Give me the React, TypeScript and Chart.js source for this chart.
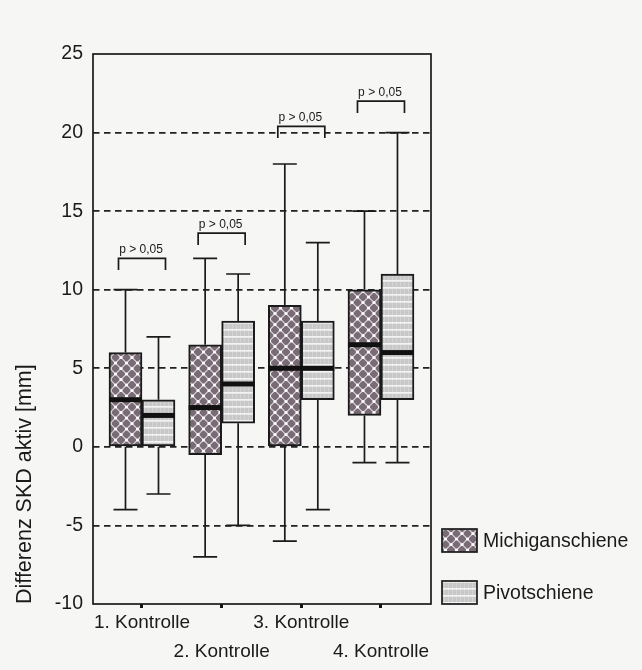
import React, { useEffect, useRef } from 'react';
import { Chart, registerables } from 'chart.js';

Chart.register(...registerables);

// ---------- data ----------
const categories = ['1. Kontrolle', '2. Kontrolle', '3. Kontrolle', '4. Kontrolle'];
const seriesNames = ['Michiganschiene', 'Pivotschiene'];

const michiganMin = [-4, -7, -6, -1];
const michiganQ1 = [0, -0.5, 0, 2];
const michiganMedian = [3, 2.5, 5, 6.5];
const michiganQ3 = [6, 6.5, 9, 10];
const michiganMax = [10, 12, 18, 15];

const pivotMin = [-3, -5, -4, -1];
const pivotQ1 = [0, 1.5, 3, 3];
const pivotMedian = [2, 4, 5, 6];
const pivotQ3 = [3, 8, 8, 11];
const pivotMax = [7, 11, 13, 20];

const pLabels = ['p > 0,05', 'p > 0,05', 'p > 0,05', 'p > 0,05'];
const pBracketLevels = [12, 13.6, 20.4, 22];

const yTicks = [-10, -5, 0, 5, 10, 15, 20, 25];
const yTitle = 'Differenz SKD aktiv [mm]';

const FONT = '"Liberation Sans", Arial, sans-serif';
const INK = '#1a1a1a';

function makeMichiganPattern(ctx: CanvasRenderingContext2D) {
  const s = 11;
  const c = document.createElement('canvas');
  c.width = s;
  c.height = s;
  const g = c.getContext('2d')!;
  g.fillStyle = '#786b75';
  g.fillRect(0, 0, s, s);
  g.strokeStyle = '#d8d0d5';
  g.lineWidth = 1.2;
  g.beginPath();
  g.moveTo(s / 2, 0);
  g.lineTo(s, s / 2);
  g.lineTo(s / 2, s);
  g.lineTo(0, s / 2);
  g.closePath();
  g.stroke();
  g.fillStyle = '#ffffff';
  const pts = [
    [s / 2, 0],
    [s, s / 2],
    [s / 2, s],
    [0, s / 2],
  ];
  for (const [px, py] of pts) {
    g.beginPath();
    g.arc(px, py, 1.6, 0, Math.PI * 2);
    g.fill();
  }
  return ctx.createPattern(c, 'repeat')!;
}

function makePivotPattern(ctx: CanvasRenderingContext2D) {
  const w = 4;
  const h = 7;
  const c = document.createElement('canvas');
  c.width = w;
  c.height = h;
  const g = c.getContext('2d')!;
  g.fillStyle = '#c8c8c8';
  g.fillRect(0, 0, w, h);
  g.fillStyle = '#d4d4d4';
  g.fillRect(0, 0, 1, h);
  g.fillStyle = '#f3f3f3';
  g.fillRect(0, 0, w, 1.7);
  return ctx.createPattern(c, 'repeat')!;
}

const boxStats = [
  { min: michiganMin, q1: michiganQ1, med: michiganMedian, q3: michiganQ3, max: michiganMax },
  { min: pivotMin, q1: pivotQ1, med: pivotMedian, q3: pivotQ3, max: pivotMax },
];

const boxPlugin = {
  id: 'boxExtras',
  afterDatasetsDraw(chart: any) {
    const { ctx, chartArea: a, scales } = chart;
    const xs = scales.x;
    const ys = scales.y;
    ctx.save();

    // whiskers and medians
    boxStats.forEach((st, di) => {
      const meta = chart.getDatasetMeta(di);
      meta.data.forEach((bar: any, i: number) => {
        const x = bar.x;
        const half = bar.width / 2;
        const cap = 12;
        ctx.strokeStyle = INK;
        ctx.lineWidth = 1.7;
        ctx.setLineDash([]);
        const yq3 = ys.getPixelForValue(st.q3[i]);
        const yq1 = ys.getPixelForValue(st.q1[i]);
        const yMax = ys.getPixelForValue(st.max[i]);
        const yMin = ys.getPixelForValue(st.min[i]);
        ctx.beginPath();
        ctx.moveTo(x, yq3);
        ctx.lineTo(x, yMax);
        ctx.moveTo(x - cap, yMax);
        ctx.lineTo(x + cap, yMax);
        ctx.moveTo(x, yq1);
        ctx.lineTo(x, yMin);
        ctx.moveTo(x - cap, yMin);
        ctx.lineTo(x + cap, yMin);
        ctx.stroke();
        const yMed = ys.getPixelForValue(st.med[i]);
        ctx.fillStyle = '#111';
        ctx.fillRect(x - half, yMed - 2.5, half * 2, 5);
      });
    });

    // frame
    ctx.strokeStyle = INK;
    ctx.lineWidth = 1.7;
    ctx.strokeRect(a.left, a.top, a.right - a.left, a.bottom - a.top);

    // p-value brackets
    pBracketLevels.forEach((lvl, i) => {
      const cx = xs.getPixelForValue(i + 1);
      const yTop = ys.getPixelForValue(lvl);
      const yLeg = ys.getPixelForValue(lvl - 0.75);
      const hw = 23.5;
      ctx.strokeStyle = INK;
      ctx.lineWidth = 1.7;
      ctx.beginPath();
      ctx.moveTo(cx - hw, yLeg);
      ctx.lineTo(cx - hw, yTop);
      ctx.lineTo(cx + hw, yTop);
      ctx.lineTo(cx + hw, yLeg);
      ctx.stroke();
      ctx.fillStyle = INK;
      ctx.font = `12px ${FONT}`;
      ctx.textAlign = 'center';
      ctx.textBaseline = 'middle';
      ctx.fillText(pLabels[i], cx - 1, yTop - 8.5);
    });

    // legend
    const lx = a.right + 11;
    const tops = [a.bottom - 75, a.bottom - 23];
    chart.data.datasets.forEach((ds: any, di: number) => {
      const ty = tops[di];
      ctx.fillStyle = ds.backgroundColor;
      ctx.fillRect(lx, ty, 35, 23);
      ctx.strokeStyle = INK;
      ctx.lineWidth = 1.7;
      ctx.strokeRect(lx, ty, 35, 23);
      ctx.fillStyle = INK;
      ctx.font = `19.5px ${FONT}`;
      ctx.textAlign = 'left';
      ctx.textBaseline = 'middle';
      ctx.fillText(ds.label, lx + 41, ty + 12.5);
    });

    ctx.restore();
  },
};

export default function App() {
  const ref = useRef<HTMLCanvasElement | null>(null);

  useEffect(() => {
    const canvas = ref.current!;
    const ctx = canvas.getContext('2d')!;
    const michiganFill = makeMichiganPattern(ctx);
    const pivotFill = makePivotPattern(ctx);

    const chart = new Chart(canvas, {
      type: 'bar',
      data: {
        datasets: [
          {
            label: seriesNames[0],
            data: categories.map((_, i) => ({ x: i + 1, y: [michiganQ1[i], michiganQ3[i]] })) as any,
            backgroundColor: michiganFill as any,
            borderColor: INK,
            borderWidth: 2,
            borderSkipped: false,
            barThickness: 33,
          },
          {
            label: seriesNames[1],
            data: categories.map((_, i) => ({ x: i + 1, y: [pivotQ1[i], pivotQ3[i]] })) as any,
            backgroundColor: pivotFill as any,
            borderColor: INK,
            borderWidth: 2,
            borderSkipped: false,
            barThickness: 33,
          },
        ],
      },
      options: {
        responsive: false,
        animation: false,
        events: [],
        layout: { padding: { left: 0, top: 54, right: 211, bottom: 0 } },
        plugins: {
          legend: { display: false },
          tooltip: { enabled: false },
        },
        scales: {
          x: {
            type: 'linear',
            min: 0.385,
            max: 4.628,
            offset: false,
            afterBuildTicks: (s: any) => {
              s.ticks = categories.map((_, i) => ({ value: i + 1 }));
            },
            afterFit: (s: any) => {
              s.height = 66;
            },
            ticks: {
              autoSkip: false,
              maxRotation: 0,
              minRotation: 0,
              padding: 0,
              color: INK,
              font: { family: FONT, size: 19, lineHeight: 1.55 },
              callback: (v: any) => {
                const i = Math.round(Number(v)) - 1;
                const l = categories[i] ?? '';
                return i % 2 === 1 ? ['', l] : l;
              },
            },
            grid: {
              drawOnChartArea: false,
              drawTicks: true,
              tickLength: 4,
              lineWidth: 3,
              color: '#111',
              offset: false,
            },
            border: { display: false },
          } as any,
          y: {
            type: 'linear',
            min: yTicks[0],
            max: yTicks[yTicks.length - 1],
            afterBuildTicks: (s: any) => {
              s.ticks = yTicks.map((v) => ({ value: v }));
            },
            afterFit: (s: any) => {
              s.width = 93;
            },
            ticks: {
              padding: 10,
              color: INK,
              font: { family: FONT, size: 19.5 },
            },
            grid: {
              drawTicks: false,
              lineWidth: 1.7,
              color: (c: any) =>
                c.tick && (c.tick.value === yTicks[0] || c.tick.value === yTicks[yTicks.length - 1])
                  ? 'rgba(0,0,0,0)'
                  : '#222',
            },
            border: { display: false, dash: [6.5, 4.5] },
            title: {
              display: true,
              text: yTitle,
              align: 'start',
              color: INK,
              font: { family: FONT, size: 21.5 },
              padding: { top: 12, bottom: 0 },
            },
          } as any,
        },
      },
      plugins: [boxPlugin],
    });

    return () => chart.destroy();
  }, []);

  return (
    <div
      style={{
        position: 'fixed',
        left: 0,
        top: 0,
        width: 642,
        height: 670,
        background: '#f6f6f4',
      }}
    >
      <canvas ref={ref} width={642} height={670} style={{ display: 'block' }} />
    </div>
  );
}
